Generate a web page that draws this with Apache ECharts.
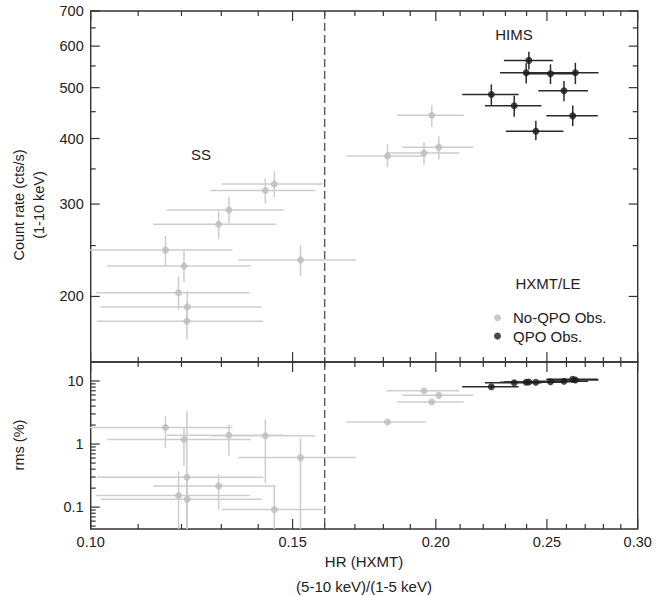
<!DOCTYPE html>
<html><head><meta charset="utf-8">
<script src="https://cdn.jsdelivr.net/npm/echarts@6/dist/echarts.min.js"></script>
<style>html,body{margin:0;padding:0;background:#fff}#chart{width:670px;height:595px}</style>
</head><body><div id="chart"></div>
<script>
// ---------- data: No-QPO observations ----------
const noQpoHR     = [0.1446, 0.1420, 0.1320, 0.1293, 0.1162, 0.1206, 0.1524, 0.1193, 0.1214, 0.1213, 0.1984, 0.1815, 0.1953, 0.2012];
const noQpoHRLo   = [0.1301, 0.1272, 0.1165, 0.1134, 0.0995, 0.1034, 0.1345, 0.1011, 0.1020, 0.1013, 0.1850, 0.1671, 0.1811, 0.1869];
const noQpoHRHi   = [0.1594, 0.1570, 0.1473, 0.1451, 0.1329, 0.1379, 0.1704, 0.1376, 0.1410, 0.1414, 0.2115, 0.1959, 0.2097, 0.2156];
const noQpoRate   = [327.7, 318.3, 292.3, 274.5, 245.1, 228.5, 234.6, 203.3, 190.9, 179.4, 443.1, 370.6, 375.5, 385.0];
const noQpoRateLo = [309.5, 300.6, 276.0, 257.3, 228.5, 213.0, 218.7, 188.7, 178.4, 165.5, 421.0, 353.0, 356.7, 364.8];
const noQpoRateHi = [346.4, 335.5, 309.5, 290.9, 261.2, 244.0, 250.3, 218.4, 204.7, 194.8, 463.0, 389.6, 394.1, 404.1];
const noQpoRms    = [0.092, 1.35, 1.38, 0.216, 1.83, 1.18, 0.61, 0.153, 0.133, 0.297, 4.64, 2.23, 7.0, 5.92];
const noQpoRmsLo  = [0.01, 0.244, 0.648, 0.092, 0.881, 0.444, 0.01, 0.01, 0.01, 0.03, 4.45, 2.13, 6.7, 5.65];
const noQpoRmsHi  = [0.216, 2.46, 2.05, 0.331, 2.77, 1.87, 1.23, 0.37, 0.30, 3.33, 4.85, 2.33, 7.3, 6.2];

// ---------- data: QPO observations ----------
const qpoHR     = [0.2411, 0.2398, 0.2518, 0.2647, 0.2587, 0.2236, 0.2341, 0.2633, 0.2445];
const qpoHRLo   = [0.2293, 0.2275, 0.2390, 0.2525, 0.2457, 0.2109, 0.2207, 0.2497, 0.2302];
const qpoHRHi   = [0.2530, 0.2520, 0.2650, 0.2773, 0.2715, 0.2362, 0.2473, 0.2769, 0.2584];
const qpoRate   = [563.6, 533.7, 531.4, 533.7, 493.1, 485.3, 461.7, 441.8, 413.0];
const qpoRateLo = [541.7, 509.5, 507.9, 507.9, 471.3, 463.1, 439.9, 422.4, 397.0];
const qpoRateHi = [585.4, 556.3, 554.0, 557.7, 514.6, 507.3, 482.6, 462.6, 432.3];
const qpoRms    = [9.64, 9.53, 9.75, 10.37, 9.89, 8.11, 9.40, 10.64, 9.53];
const qpoRmsLo  = [9.2, 9.1, 9.3, 9.9, 9.45, 7.7, 9.0, 10.15, 9.1];
const qpoRmsHi  = [10.1, 9.95, 10.2, 10.85, 10.35, 8.5, 9.8, 11.1, 9.95];

// ---------- axes / ticks ----------
const hrRange      = [0.10, 0.30];
const rateRange    = [150, 700];
const rmsRange     = [0.045, 20];
const hrMajorTicks = [0.10, 0.15, 0.20, 0.25, 0.30];
const hrTickLabels = ['0.10', '0.15', '0.20', '0.25', '0.30'];
const hrMinorTicks = [0.11, 0.12, 0.13, 0.14, 0.16, 0.17, 0.18, 0.19, 0.21, 0.22, 0.23, 0.24, 0.26, 0.27, 0.28, 0.29];
const rateMajorTicks = [200, 300, 400, 500, 600, 700];
const rateTickLabels = ['200', '300', '400', '500', '600', '700'];
const rateMinorTicks = [250, 350, 450, 550, 650];
const rmsMajorTicks = [0.1, 1, 10];
const rmsTickLabels = ['0.1', '1', '10'];
const rmsMinorTicks = [0.05, 0.06, 0.07, 0.08, 0.09, 0.2, 0.3, 0.4, 0.5, 0.6, 0.7, 0.8, 0.9, 2, 3, 4, 5, 6, 7, 8, 9];
const stateBoundaryHR = 0.16;

const FONT = '"Liberation Sans", Arial, Helvetica, sans-serif';
const TXT = '#222';
const AX = '#333';
const GRAY = '#bdbdbd', GRAY_ERR = '#cdcdcd';
const BLACK = '#1a1a1a', BLACK_ERR = '#2b2b2b';

function zip(a, b, c, d, e, f) { return a.map((v, i) => [v, b[i], c[i], d[i], e[i], f[i]]); }

function errRender(color) {
  return function (params, api) {
    const x = api.value(0), y = api.value(1);
    const p1 = api.coord([api.value(2), y]), p2 = api.coord([api.value(3), y]);
    const q1 = api.coord([x, api.value(4)]), q2 = api.coord([x, api.value(5)]);
    const st = { stroke: color, lineWidth: 1.5, fill: null };
    return { type: 'group', children: [
      { type: 'line', shape: { x1: p1[0], y1: p1[1], x2: p2[0], y2: p2[1] }, style: st },
      { type: 'line', shape: { x1: q1[0], y1: q1[1], x2: q2[0], y2: q2[1] }, style: st }
    ] };
  };
}

function decorRender(cfg) {
  return function (params, api) {
    const ch = [];
    const bl = api.coord([hrRange[0], cfg.yRange[0]]);
    const tr = api.coord([hrRange[1], cfg.yRange[1]]);
    const left = bl[0], bottom = bl[1], right = tr[0], top = tr[1];
    const ln = (x1, y1, x2, y2) => ch.push({ type: 'line', shape: { x1, y1, x2, y2 }, style: { stroke: AX, lineWidth: 1.2 } });
    const xt = (v, len) => {
      const px = api.coord([v, cfg.yRange[0]])[0];
      if (cfg.xBottom) ln(px, bottom, px, bottom - len);
      if (cfg.xTop) ln(px, top, px, top + len);
    };
    hrMajorTicks.forEach(v => xt(v, 10));
    hrMinorTicks.forEach(v => xt(v, 5));
    const yt = (v, len) => {
      const py = api.coord([hrRange[0], v])[1];
      ln(left, py, left + len, py);
      if (cfg.yRight) ln(right, py, right - len, py);
    };
    cfg.yMajor.forEach(v => yt(v, 9));
    cfg.yMinor.forEach(v => yt(v, 5));
    cfg.yMajor.forEach((v, i) => {
      const py = api.coord([hrRange[0], v])[1];
      ch.push({ type: 'text', x: left - 7, y: py, style: { text: cfg.yLabels[i], fill: TXT, fontSize: 14.5, fontFamily: FONT, align: 'right', verticalAlign: 'middle' } });
    });
    if (cfg.xLabels) {
      hrMajorTicks.forEach((v, i) => {
        const px = api.coord([v, cfg.yRange[0]])[0];
        ch.push({ type: 'text', x: px, y: bottom + 13, style: { text: hrTickLabels[i], fill: TXT, fontSize: 14.5, fontFamily: FONT, align: 'center', verticalAlign: 'middle' } });
      });
    }
    const dx = api.coord([stateBoundaryHR, cfg.yRange[0]])[0];
    ch.push({ type: 'line', shape: { x1: dx, y1: top, x2: dx, y2: bottom }, style: { stroke: '#444', lineWidth: 1.2, lineDash: [8, 4] } });
    return { type: 'group', children: ch };
  };
}

const chart = echarts.init(document.getElementById('chart'), null, { renderer: 'svg' });

const axisCommon = {
  type: 'log', logBase: 10,
  axisLine: { show: false }, axisTick: { show: false }, axisLabel: { show: false }, splitLine: { show: false }
};

chart.setOption({
  animation: false,
  backgroundColor: '#fff',
  grid: [
    { left: 90.7, right: 32.3, top: 11, height: 351, show: true, borderColor: AX, borderWidth: 1.4, backgroundColor: 'transparent' },
    { left: 90.7, right: 32.3, top: 362, height: 167, show: true, borderColor: AX, borderWidth: 1.4, backgroundColor: 'transparent' }
  ],
  xAxis: [
    Object.assign({ gridIndex: 0, min: hrRange[0], max: hrRange[1] }, axisCommon),
    Object.assign({ gridIndex: 1, min: hrRange[0], max: hrRange[1] }, axisCommon)
  ],
  yAxis: [
    Object.assign({ gridIndex: 0, min: rateRange[0], max: rateRange[1] }, axisCommon),
    Object.assign({ gridIndex: 1, min: rmsRange[0], max: rmsRange[1] }, axisCommon)
  ],
  legend: {
    data: ['No-QPO Obs.', 'QPO Obs.'],
    orient: 'vertical', left: 489, top: 305.2,
    icon: 'circle', itemWidth: 21, itemHeight: 7, itemGap: 3.3,
    textStyle: { fontSize: 15, fontFamily: FONT, color: TXT }
  },
  graphic: [
    { type: 'text', x: 19, y: 205, rotation: Math.PI / 2, style: { text: 'Count rate (cts/s)', fill: TXT, fontSize: 14.5, fontFamily: FONT, align: 'center', verticalAlign: 'middle' } },
    { type: 'text', x: 39, y: 205, rotation: Math.PI / 2, style: { text: '(1-10 keV)', fill: TXT, fontSize: 14.5, fontFamily: FONT, align: 'center', verticalAlign: 'middle' } },
    { type: 'text', x: 19, y: 445, rotation: Math.PI / 2, style: { text: 'rms (%)', fill: TXT, fontSize: 14.5, fontFamily: FONT, align: 'center', verticalAlign: 'middle' } },
    { type: 'text', x: 364, y: 561, style: { text: 'HR (HXMT)', fill: TXT, fontSize: 15, fontFamily: FONT, align: 'center', verticalAlign: 'middle' } },
    { type: 'text', x: 364, y: 586, style: { text: '(5-10 keV)/(1-5 keV)', fill: TXT, fontSize: 15, fontFamily: FONT, align: 'center', verticalAlign: 'middle' } },
    { type: 'text', x: 201, y: 154, style: { text: 'SS', fill: TXT, fontSize: 15, fontFamily: FONT, align: 'center', verticalAlign: 'middle' } },
    { type: 'text', x: 514, y: 34, style: { text: 'HIMS', fill: TXT, fontSize: 15, fontFamily: FONT, align: 'center', verticalAlign: 'middle' } },
    { type: 'text', x: 548, y: 283, style: { text: 'HXMT/LE', fill: TXT, fontSize: 15, fontFamily: FONT, align: 'center', verticalAlign: 'middle' } }
  ],
  series: [
    { name: 'decorTop', type: 'custom', xAxisIndex: 0, yAxisIndex: 0, silent: true, z: 1,
      renderItem: decorRender({ yRange: rateRange, yMajor: rateMajorTicks, yMinor: rateMinorTicks, yLabels: rateTickLabels, xTop: true, xBottom: true, yRight: true, xLabels: false }),
      data: [[0.2, 300]] },
    { name: 'decorBottom', type: 'custom', xAxisIndex: 1, yAxisIndex: 1, silent: true, z: 1,
      renderItem: decorRender({ yRange: rmsRange, yMajor: rmsMajorTicks, yMinor: rmsMinorTicks, yLabels: rmsTickLabels, xTop: true, xBottom: true, yRight: false, xLabels: true }),
      data: [[0.2, 1]] },
    // error bars
    { name: 'errNoQpoTop', type: 'custom', xAxisIndex: 0, yAxisIndex: 0, clip: true, z: 2, renderItem: errRender(GRAY_ERR),
      data: zip(noQpoHR, noQpoRate, noQpoHRLo, noQpoHRHi, noQpoRateLo, noQpoRateHi) },
    { name: 'errNoQpoBot', type: 'custom', xAxisIndex: 1, yAxisIndex: 1, clip: true, z: 2, renderItem: errRender(GRAY_ERR),
      data: zip(noQpoHR, noQpoRms, noQpoHRLo, noQpoHRHi, noQpoRmsLo, noQpoRmsHi) },
    { name: 'errQpoTop', type: 'custom', xAxisIndex: 0, yAxisIndex: 0, clip: true, z: 3, renderItem: errRender(BLACK_ERR),
      data: zip(qpoHR, qpoRate, qpoHRLo, qpoHRHi, qpoRateLo, qpoRateHi) },
    { name: 'errQpoBot', type: 'custom', xAxisIndex: 1, yAxisIndex: 1, clip: true, z: 3, renderItem: errRender(BLACK_ERR),
      data: zip(qpoHR, qpoRms, qpoHRLo, qpoHRHi, qpoRmsLo, qpoRmsHi) },
    // points
    { name: 'No-QPO Obs.', type: 'scatter', xAxisIndex: 0, yAxisIndex: 0, z: 4, symbol: 'circle', symbolSize: 7,
      itemStyle: { color: GRAY }, data: noQpoHR.map((v, i) => [v, noQpoRate[i]]) },
    { name: 'No-QPO Obs.', type: 'scatter', xAxisIndex: 1, yAxisIndex: 1, z: 4, symbol: 'circle', symbolSize: 7,
      itemStyle: { color: GRAY }, data: noQpoHR.map((v, i) => [v, noQpoRms[i]]) },
    { name: 'QPO Obs.', type: 'scatter', xAxisIndex: 0, yAxisIndex: 0, z: 5, symbol: 'circle', symbolSize: 7,
      itemStyle: { color: BLACK }, data: qpoHR.map((v, i) => [v, qpoRate[i]]) },
    { name: 'QPO Obs.', type: 'scatter', xAxisIndex: 1, yAxisIndex: 1, z: 5, symbol: 'circle', symbolSize: 7,
      itemStyle: { color: BLACK }, data: qpoHR.map((v, i) => [v, qpoRms[i]]) }
  ]
});
</script></body></html>
